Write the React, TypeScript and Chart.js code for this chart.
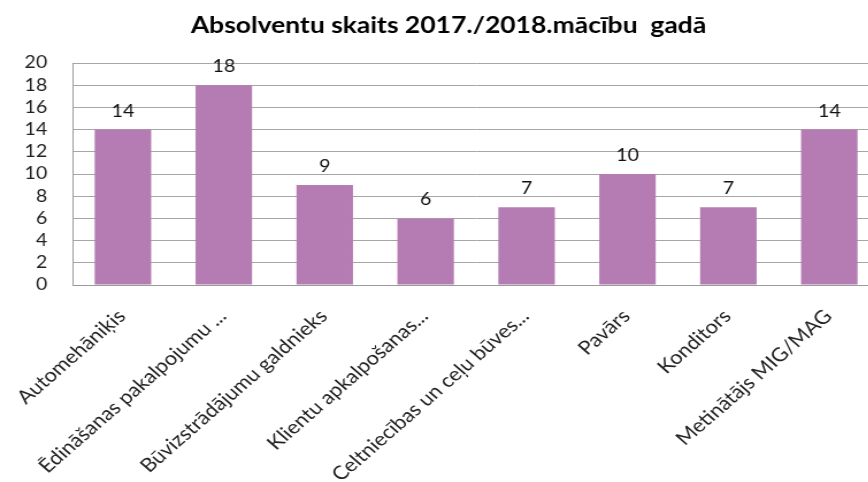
import { useEffect, useRef } from "react";
import { Chart, registerables } from "chart.js";

Chart.register(...registerables);

const TITLE = "Absolventu skaits 2017./2018.mācību  gadā";
const categories = [
  "Automehāniķis",
  "Ēdināšanas pakalpojumu ...",
  "Būvizstrādājumu galdnieks",
  "Klientu apkalpošanas...",
  "Celtniecības un ceļu būves...",
  "Pavārs",
  "Konditors",
  "Metinātājs MIG/MAG",
];
const values = [14, 18, 9, 6, 7, 10, 7, 14];
const yMin = 0;
const yMax = 20;
const yStep = 2;

const FONT = "Lato, 'Open Sans', sans-serif";
const BAR_COLOR = "#B57CB4";
const STRETCH = 1.15;
const CANVAS_W = 785;
const CANVAS_H = 482;

export default function App() {
  const ref = useRef<HTMLCanvasElement | null>(null);

  useEffect(() => {
    if (!ref.current) return;
    const titlePlugin = {
      id: "customTitle",
      afterDraw(chart: any) {
        const ctx = chart.ctx;
        ctx.save();
        ctx.font = `bold 23px ${FONT}`;
        ctx.fillStyle = "#000";
        ctx.textAlign = "center";
        ctx.textBaseline = "alphabetic";
        ctx.fillText(TITLE, 390, 33);
        ctx.restore();
      },
    };
    const labelPlugin = {
      id: "valueLabels",
      afterDatasetsDraw(chart: any) {
        const ctx = chart.ctx;
        ctx.save();
        ctx.font = `17px ${FONT}`;
        ctx.fillStyle = "#111";
        ctx.textAlign = "center";
        ctx.textBaseline = "alphabetic";
        const meta = chart.getDatasetMeta(0);
        meta.data.forEach((el: any, i: number) => {
          ctx.fillText(String(values[i]), el.x, el.y - 13);
        });
        ctx.restore();
      },
    };
    const chart = new Chart(ref.current, {
      type: "bar",
      data: {
        labels: categories,
        datasets: [
          {
            data: values,
            backgroundColor: BAR_COLOR,
            borderWidth: 0,
            barPercentage: 0.56,
            categoryPercentage: 1,
          },
        ],
      },
      options: {
        responsive: false,
        animation: false,
        layout: { padding: { left: 0, right: 20, top: 63, bottom: 0 } },
        plugins: {
          legend: { display: false },
          title: { display: false },
          tooltip: { enabled: false },
        },
        scales: {
          x: {
            grid: { display: false, drawTicks: false },
            border: { display: true, color: "#9a9a9a", width: 1 },
            ticks: {
              autoSkip: false,
              maxRotation: 45,
              minRotation: 45,
              padding: 20,
              labelOffset: -1,
              color: "#222",
              font: { family: FONT, size: 19 },
            },
            afterFit(s: any) {
              s.height = CANVAS_H - 285;
              s.paddingLeft = 0;
              s.paddingRight = 0;
            },
          },
          y: {
            min: yMin,
            max: yMax,
            grid: { color: "#a6a6a6", lineWidth: 1, drawTicks: false },
            border: { display: true, color: "#9a9a9a", width: 1 },
            ticks: {
              stepSize: yStep,
              autoSkip: false,
              padding: 22,
              color: "#222",
              font: { family: FONT, size: 17 },
            },
            afterFit(s: any) {
              s.width = 63;
              s.paddingTop = 0;
              s.paddingBottom = 0;
            },
          },
        },
      },
      plugins: [titlePlugin, labelPlugin],
    });
    return () => chart.destroy();
  }, []);

  return (
    <div
      style={{
        position: "absolute",
        left: 0,
        top: 0,
        width: 868,
        height: 482,
        overflow: "hidden",
        background: "#fff",
      }}
    >
      <div
        style={{
          transform: `scaleX(${STRETCH})`,
          transformOrigin: "0 0",
          width: CANVAS_W,
          height: CANVAS_H,
        }}
      >
        <canvas
          ref={ref}
          width={CANVAS_W}
          height={CANVAS_H}
          style={{ width: CANVAS_W, height: CANVAS_H, display: "block" }}
        />
      </div>
    </div>
  );
}
